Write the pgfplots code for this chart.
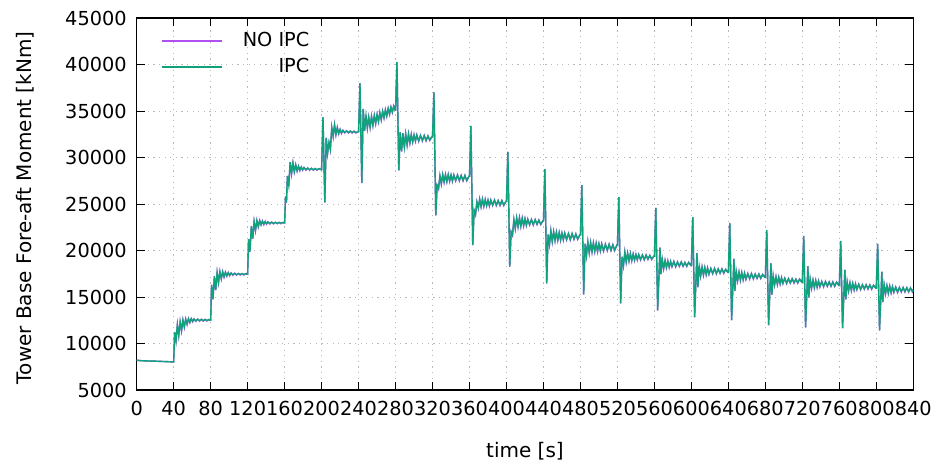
\documentclass[border=0pt]{standalone}
\usepackage{fontspec}
\setmainfont{DejaVu Sans}
\usepackage{pgfplots}
\usepackage{pgfplotstable}
\pgfplotsset{compat=1.18}
\definecolor{cpurple}{HTML}{B050F0}
\definecolor{cteal}{HTML}{0FA37C}
\pgfplotstableread{
t noipc ipc
0 8200 8200
5 8150 8150
10 8130 8130
15 8110 8110
20 8100 8100
25 8080 8080
30 8060 8060
35 8040 8040
39.5 8020 8020
40.0 8020 8020
41.0 11230 11200
42.5 10230 10300
44.0 12030 12000
45.5 10830 10900
47.0 12330 12300
48.5 11330 11400
50.0 12530 12500
51.5 11730 11800
53.0 12630 12600
54.5 12030 12100
56.0 12680 12650
57.5 12230 12300
59.0 12680 12650
60.5 12330 12400
62.0 12650 12620
64.0 12380 12450
66.0 12630 12600
68.0 12400 12470
70.0 12610 12580
72.0 12410 12480
74.0 12600 12570
76.0 12420 12490
78.0 12590 12560
79.5 12500 12500
80.0 12500 12500
81.0 16330 16300
82.5 14730 14800
84.0 17230 17200
85.5 15730 15800
87.0 17630 17600
88.5 16530 16600
90.0 17730 17700
91.5 16930 17000
93.0 17730 17700
94.5 17130 17200
96.0 17680 17650
97.5 17230 17300
99.0 17630 17600
100.5 17280 17350
102.0 17590 17560
104.0 17330 17400
106.0 17560 17530
108.0 17350 17420
110.0 17540 17510
112.0 17360 17430
114.0 17530 17500
116.0 17370 17440
118.0 17520 17490
119.5 17450 17450
120.0 17450 17450
121.0 21230 21200
122.5 19830 19900
124.0 22630 22600
125.5 21230 21300
127.0 23130 23100
128.5 22130 22200
130.0 23230 23200
131.5 22530 22600
133.0 23230 23200
134.5 22730 22800
136.0 23180 23150
137.5 22780 22850
139.0 23130 23100
140.5 22830 22900
142.0 23090 23060
144.0 22850 22920
146.0 23060 23030
148.0 22860 22930
150.0 23040 23010
152.0 22870 22940
154.0 23030 23000
156.0 22880 22950
158.0 23020 22990
159.5 22960 22960
160.0 22960 22960
161.0 25800 25800
162.0 25130 25200
163.0 28030 28000
164.5 26930 27000
166.0 29530 29500
167.5 28230 28300
169.0 29430 29400
170.5 28430 28500
172.0 29230 29200
173.5 28530 28600
175.0 29080 29050
176.5 28580 28650
178.0 28980 28950
179.5 28630 28700
181.0 28930 28900
183.0 28630 28700
185.0 28880 28850
187.0 28630 28700
189.0 28850 28820
191.0 28630 28700
193.0 28830 28800
195.0 28630 28700
197.0 28810 28780
199.5 28700 28700
200.0 28700 28700
201.5 34350 34350
203.5 25150 25200
205.0 32130 32100
206.5 30430 30500
208.0 31630 31600
209.5 30830 30900
211.0 33230 33200
212.5 32230 32300
214.0 33530 33500
215.5 32430 32500
217.0 33230 33200
218.5 32530 32600
220.0 33030 33000
221.5 32580 32650
223.0 32930 32900
225.0 32630 32700
227.0 32880 32850
229.0 32630 32700
231.0 32860 32830
233.0 32630 32700
235.0 32830 32800
237.0 32630 32700
239.5 32780 32780
240.0 32780 32780
241.5 38000 38000
243.5 27250 27300
245.0 35230 35200
246.5 32830 32900
248.0 34530 34500
249.5 33130 33200
251.0 34330 34300
252.5 33230 33300
254.0 34430 34400
255.5 33430 33500
257.0 34530 34500
258.5 33630 33700
260.0 34630 34600
261.5 33830 33900
263.0 34830 34800
264.5 34030 34100
266.0 34980 34950
267.5 34230 34300
269.0 35130 35100
270.5 34430 34500
272.0 35280 35250
273.5 34630 34700
275.0 35430 35400
276.5 34830 34900
278.0 35530 35500
279.5 35100 35100
280.0 35100 35100
281.5 40250 40250
283.5 28600 28650
285.0 32730 32700
286.5 30630 30700
288.0 32630 32600
289.5 31030 31100
291.0 32530 32500
292.5 31330 31400
294.0 32530 32500
295.5 31530 31600
297.0 32480 32450
298.5 31630 31700
300.0 32430 32400
301.5 31730 31800
303.0 32430 32400
305.0 31730 31800
307.0 32380 32350
309.0 31780 31850
311.0 32380 32350
313.0 31780 31850
315.0 32330 32300
317.0 31830 31900
319.5 32250 32250
320.0 32250 32250
321.5 37000 37000
323.5 23750 23800
325.0 27030 27000
326.5 26630 26700
328.0 28030 28000
329.5 27130 27200
331.0 28180 28150
332.5 27330 27400
334.0 28180 28150
335.5 27380 27450
337.0 28180 28150
338.5 27430 27500
340.0 28130 28100
341.5 27430 27500
343.0 28130 28100
345.0 27480 27550
347.0 28130 28100
349.0 27480 27550
351.0 28080 28050
353.0 27480 27550
355.0 28080 28050
357.0 27480 27550
359.5 28000 28000
360.0 28000 28000
361.5 33400 33400
363.5 20550 20600
365.0 24330 24300
366.5 23830 23900
368.0 25230 25200
369.5 24530 24600
371.0 25530 25500
372.5 24680 24750
374.0 25530 25500
375.5 24730 24800
377.0 25480 25450
378.5 24780 24850
380.0 25430 25400
381.5 24780 24850
383.0 25430 25400
385.0 24830 24900
387.0 25430 25400
389.0 24830 24900
391.0 25380 25350
393.0 24830 24900
395.0 25380 25350
397.0 24830 24900
399.5 25300 25300
400.0 25300 25300
401.5 30600 30600
403.5 18250 18300
405.0 22030 22000
406.5 21630 21700
408.0 23330 23300
409.5 22330 22400
411.0 23530 23500
412.5 22530 22600
414.0 23530 23500
415.5 22580 22650
417.0 23480 23450
418.5 22630 22700
420.0 23430 23400
421.5 22680 22750
423.0 23380 23350
425.0 22730 22800
427.0 23330 23300
429.0 22730 22800
431.0 23330 23300
433.0 22780 22850
435.0 23280 23250
437.0 22780 22850
439.5 23200 23200
440.0 23200 23200
441.5 28760 28760
443.5 16450 16500
445.0 21730 21700
446.5 20630 20700
448.0 22130 22100
449.5 20930 21000
451.0 22030 22000
452.5 21030 21100
454.0 21980 21950
455.5 21080 21150
457.0 21930 21900
458.5 21080 21150
460.0 21880 21850
461.5 21130 21200
463.0 21880 21850
465.0 21130 21200
467.0 21830 21800
469.0 21130 21200
471.0 21830 21800
473.0 21180 21250
475.0 21780 21750
477.0 21180 21250
479.5 21700 21700
480.0 21700 21700
481.5 27040 27040
483.5 15270 15320
485.0 20730 20700
486.5 19430 19500
488.0 20930 20900
489.5 19730 19800
491.0 20880 20850
492.5 19830 19900
494.0 20830 20800
495.5 19880 19950
497.0 20780 20750
498.5 19880 19950
500.0 20730 20700
501.5 19930 20000
503.0 20730 20700
505.0 19930 20000
507.0 20680 20650
509.0 19980 20050
511.0 20680 20650
513.0 19980 20050
515.0 20630 20600
517.0 19980 20050
519.5 20600 20600
520.0 20600 20600
521.5 25750 25750
523.5 14300 14350
525.0 19330 19300
526.5 18330 18400
528.0 19830 19800
529.5 18730 18800
531.0 19730 19700
532.5 18830 18900
534.0 19680 19650
535.5 18880 18950
537.0 19630 19600
538.5 18930 19000
540.0 19580 19550
541.5 18980 19050
543.0 19580 19550
545.0 18980 19050
547.0 19530 19500
549.0 18980 19050
551.0 19530 19500
553.0 19030 19100
555.0 19480 19450
557.0 19030 19100
559.5 19400 19400
560.0 19400 19400
561.5 24570 24570
563.5 13550 13600
565.0 17450 17500
566.0 20330 20300
567.0 17430 17500
568.5 19030 19000
570.0 18030 18100
571.5 18930 18900
573.0 18130 18200
574.5 18880 18850
576.0 18180 18250
577.5 18830 18800
579.0 18230 18300
581.0 18830 18800
583.0 18230 18300
585.0 18780 18750
587.0 18280 18350
589.0 18780 18750
591.0 18280 18350
593.0 18730 18700
595.0 18280 18350
597.0 18730 18700
599.5 18400 18400
600.0 18450 18450
601.5 23600 23600
603.5 12800 12850
605.0 16950 17000
606.0 19730 19700
607.0 16030 16100
608.5 18330 18300
610.0 17230 17300
611.5 18230 18200
613.0 17330 17400
614.5 18180 18150
616.0 17380 17450
617.5 18130 18100
619.0 17430 17500
621.0 18080 18050
623.0 17480 17550
625.0 18080 18050
627.0 17480 17550
629.0 18030 18000
631.0 17530 17600
633.0 18030 18000
635.0 17530 17600
637.0 17980 17950
639.5 17650 17650
640.0 17650 17650
641.5 22960 22960
643.5 12480 12530
645.0 16450 16500
646.0 19130 19100
647.0 15630 15700
648.5 17730 17700
650.0 16730 16800
651.5 17680 17650
653.0 16780 16850
654.5 17630 17600
656.0 16830 16900
657.5 17580 17550
659.0 16880 16950
661.0 17530 17500
663.0 16930 17000
665.0 17530 17500
667.0 16930 17000
669.0 17480 17450
671.0 16980 17050
673.0 17480 17450
675.0 16980 17050
677.0 17430 17400
679.5 17100 17100
680.0 17100 17100
681.5 22200 22200
683.5 11950 12000
685.0 15950 16000
686.0 18630 18600
687.0 15230 15300
688.5 17280 17250
690.0 16280 16350
691.5 17180 17150
693.0 16330 16400
694.5 17130 17100
696.0 16380 16450
697.5 17080 17050
699.0 16430 16500
701.0 17030 17000
703.0 16430 16500
705.0 16980 16950
707.0 16480 16550
709.0 16980 16950
711.0 16480 16550
713.0 16930 16900
715.0 16480 16550
717.0 16930 16900
719.5 16600 16600
720.0 16600 16600
721.5 21560 21560
723.5 11720 11770
725.0 15750 15800
726.0 18330 18300
727.0 14930 15000
728.5 16930 16900
730.0 15930 16000
731.5 16830 16800
733.0 15980 16050
734.5 16780 16750
736.0 16030 16100
737.5 16730 16700
739.0 16080 16150
741.0 16680 16650
743.0 16080 16150
745.0 16680 16650
747.0 16130 16200
749.0 16630 16600
751.0 16130 16200
753.0 16630 16600
755.0 16130 16200
757.0 16610 16580
759.5 16250 16250
760.0 16250 16250
761.5 21020 21020
763.5 11620 11670
765.0 15450 15500
766.0 17930 17900
767.0 14730 14800
768.5 16630 16600
770.0 15630 15700
771.5 16530 16500
773.0 15680 15750
774.5 16480 16450
776.0 15730 15800
777.5 16430 16400
779.0 15780 15850
781.0 16380 16350
783.0 15780 15850
785.0 16330 16300
787.0 15830 15900
789.0 16330 16300
791.0 15830 15900
793.0 16310 16280
795.0 15830 15900
797.0 16280 16250
799.5 15950 15950
800.0 15950 15950
801.5 20700 20700
803.5 11400 11450
805.0 15150 15200
806.0 17730 17700
807.0 14430 14500
808.5 16330 16300
810.0 15330 15400
811.5 16230 16200
813.0 15380 15450
814.5 16180 16150
816.0 15430 15500
817.5 16130 16100
819.0 15480 15550
821.0 16080 16050
823.0 15480 15550
825.0 16030 16000
827.0 15530 15600
829.0 16030 16000
831.0 15530 15600
833.0 16010 15980
835.0 15530 15600
837.0 15980 15950
839.0 15550 15620
840.0 15800 15800
}\datatable
\begin{document}
\begin{tikzpicture}
\begin{axis}[
  at={(0,0)}, anchor=south west,
  scale only axis,
  width=388.3pt, height=186pt,
  xmin=0, xmax=840, ymin=5000, ymax=45000,
  xtick={0,40,...,840},
  ytick={5000,10000,...,45000},
  scaled ticks=false,
  /pgf/number format/set thousands separator={},
  /pgf/number format/assume math mode=true,
  tick label style={font=\fontsize{9.65}{11}\selectfont, black},
  label style={font=\fontsize{9.65}{11}\selectfont},
  xticklabel style={yshift=-2pt},
  yticklabel style={xshift=-1.5pt},
  major tick length=4pt,
  tick style={black, line width=0.5pt},
  axis line style={black, line width=0.6pt},
  grid=major,
  grid style={draw=gray!55, line width=0.5pt, dash pattern=on 0.6pt off 2.2pt},
  every axis y label/.style={at={(axis description cs:-0.1438,0.49)}, rotate=90, anchor=center},
  every axis x label/.style={at={(axis description cs:0.5,0)}, yshift=-30.5pt, anchor=center},
  xlabel={time [s]},
  ylabel={Tower Base Fore-aft Moment [kNm]},
  legend cell align=right,
  legend style={at={(axis description cs:0.0305,0.97)}, anchor=north west, draw=none, fill=none,
    font=\fontsize{9.65}{11}\selectfont, row sep=1pt, column sep=8.5pt, inner sep=0pt,
    nodes={inner sep=1.5pt}},
  legend image code/.code={\draw[#1, line width=1pt] (0pt,0pt) -- (30pt,0pt);},
]
\addplot[color=cpurple, line width=0.7pt] table[x=t, y=noipc] {\datatable};
\addlegendentry{NO IPC}
\addplot[color=cteal, line width=0.7pt] table[x=t, y=ipc] {\datatable};
\addlegendentry{IPC}
\end{axis}
\pgfresetboundingbox
\path (-68.35pt,-36pt) rectangle (401.15pt,195pt);
\end{tikzpicture}
\end{document}
